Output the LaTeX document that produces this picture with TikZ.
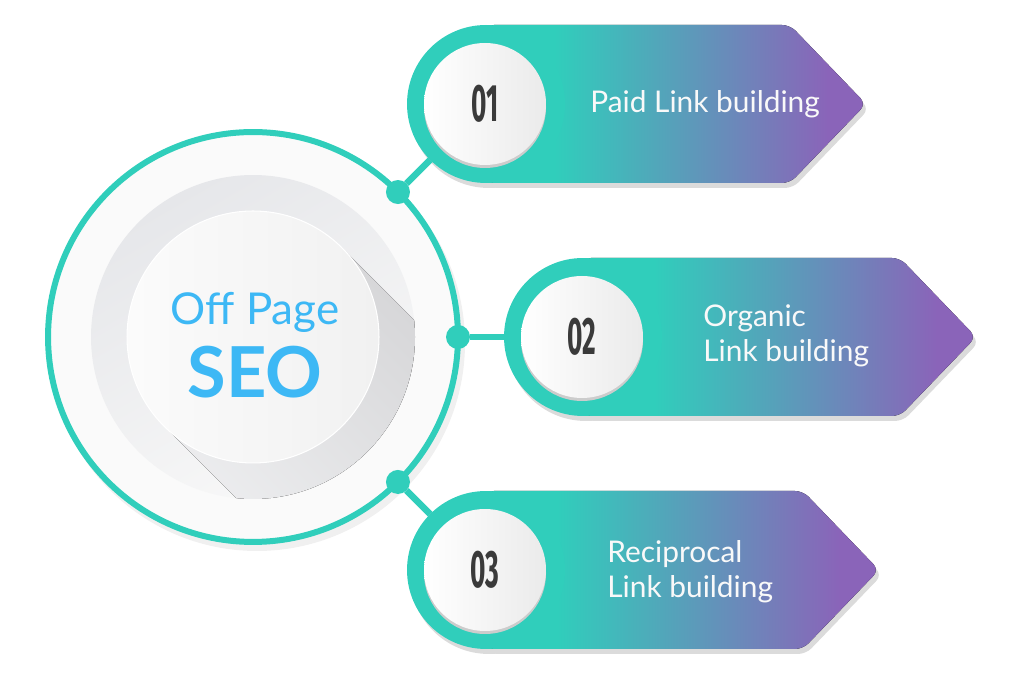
\documentclass[tikz,border=0pt]{standalone}
\usepackage{graphicx}
\usepackage{fontspec}
\setmainfont{Lato}
\newfontfamily\numfont{Fira Sans}
\usepackage{tikz}
\usetikzlibrary{positioning}

\definecolor{tealc}{HTML}{30CEBB}
\definecolor{purplec}{HTML}{8A64B9}
\definecolor{seoblue}{HTML}{3DB8F5}
\definecolor{numgray}{HTML}{3A3A3A}
\definecolor{discgray}{HTML}{E6E7EA}
\definecolor{shadegray}{HTML}{D2D2D4}

\pgfdeclarehorizontalshading{bannerfade}{100bp}{color(0bp)=(tealc); color(34bp)=(tealc); color(70bp)=(purplec); color(100bp)=(purplec)}

\tikzset{
  disc/.style={circle, inner sep=0pt, outer sep=0pt},
  hubring/.style={disc, minimum size=8.2cm, draw=tealc, line width=1.2mm, fill=white!96!gray},
  ringdisc/.style={disc, minimum size=3.16cm, fill=tealc},
  numdisc/.style={disc, minimum size=2.44cm, left color=white, right color=white!84!gray,
    text=numgray, font=\numfont\bfseries\fontsize{30}{30}\selectfont},
  dotnode/.style={disc, minimum size=0.48cm, fill=tealc},
  link/.style={tealc, line width=1.3mm},
  bannertext/.style={anchor=base west, align=left, inner sep=0pt, text=white!95!gray,
    font=\fontsize{17}{20.4}\selectfont},
  softshadow/.style={fill=gray!28}
}

\begin{document}
\begin{tikzpicture}[x=0.02cm, y=0.02cm]
\useasboundingbox (0,0) rectangle (1024,678);

% hub with its plates
\fill[gray!12] (257,335) circle (208);
\node[hubring] (hub) at (253,341) {};
\node[disc, minimum size=6.48cm, top color=discgray, bottom color=white!95!gray, shading angle=30] (plate) at (hub) {};
\begin{scope}
  \clip (hub) circle (162);
  \fill[top color=shadegray, bottom color=discgray!60!white, shading angle=-45]
    (342,430) -- (542,230) -- (364,52) -- (164,252) -- cycle;
\end{scope}
\node[disc, minimum size=5.04cm, left color=white!97!gray, right color=white!89!gray, draw=white, line width=.6pt] (core) at (hub) {};
\node[anchor=base, text=seoblue, font=\fontsize{25}{30}\selectfont] (offpage) at (255,353) {Off Page};
\node[anchor=base, text=seoblue, font=\bfseries\fontsize{40}{40}\selectfont] (seo) at (255,280) {SEO};

% banners
\foreach \i/\cx/\cy/\flat/\ang/\tx/\ty/\lbl in {
    1/486/574/790/45/590/565/{Paid Link building},
    2/583/341/900/0/703/316/{Organic\\Link building},
    3/486/108/803/-45/607/80/{Reciprocal\\Link building}}
{
  \fill[softshadow, rounded corners=4.5pt] (\cx+3,\cy-84) -- (\cx+3,\cy+74) -- (\flat+3,\cy+74) -- (\flat+79,\cy-5) -- (\flat+3,\cy-84) -- cycle;
  \fill[softshadow] (\cx+3,\cy-5) circle (79);
  \fill[shading=bannerfade, rounded corners=4.5pt] (\cx,\cy-79) -- (\cx,\cy+79) -- (\flat,\cy+79) -- (\flat+76,\cy) -- (\flat,\cy-79) -- cycle;
  \node[ringdisc] (ring\i) at (\cx,\cy) {};
  \fill[gray!40] (\cx-1,\cy-3) circle (61);
  \node[numdisc] (num\i) at (\cx-1,\cy) {\scalebox{.5}[1]{0\i}};
  \node[bannertext] (label\i) at (\tx,\ty) {\lbl};
  \node[dotnode] (dot\i) at ([shift={(\ang:205)}]hub.center) {};
  \draw[link] (dot\i) -- (ring\i);
}
\end{tikzpicture}
\end{document}
